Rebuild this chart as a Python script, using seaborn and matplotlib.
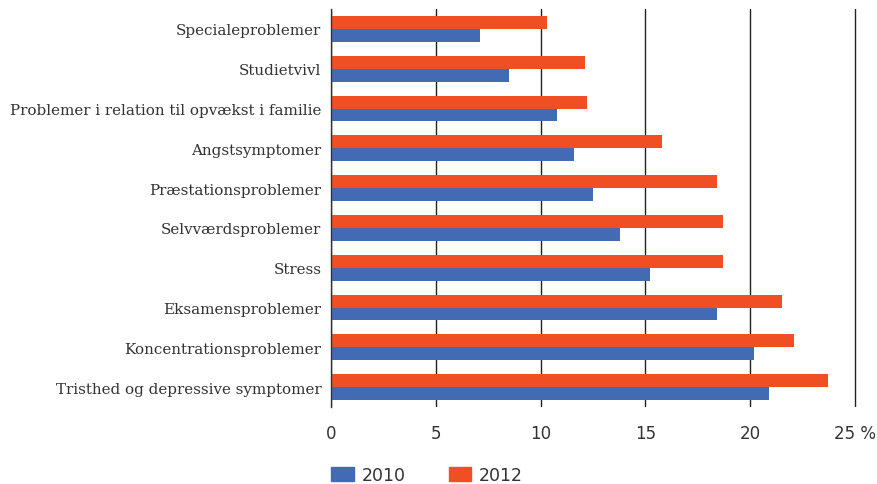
import pandas as pd
import numpy as np
import matplotlib
matplotlib.use("Agg")
import matplotlib.pyplot as plt
import matplotlib.patches as mpatches
import seaborn as sns

# Data (percent)
kategorier = [
    "Specialeproblemer",
    "Studietvivl",
    "Problemer i relation til opvækst i familie",
    "Angstsymptomer",
    "Præstationsproblemer",
    "Selvværdsproblemer",
    "Stress",
    "Eksamensproblemer",
    "Koncentrationsproblemer",
    "Tristhed og depressive symptomer",
]
vaerdier_2010 = [7.1, 8.5, 10.8, 11.6, 12.5, 13.8, 15.2, 18.4, 20.2, 20.9]
vaerdier_2012 = [10.3, 12.1, 12.2, 15.8, 18.4, 18.7, 18.7, 21.5, 22.1, 23.7]
aar = ["2010", "2012"]
farver = {"2010": "#436BB3", "2012": "#F04E23"}
xticks = [0, 5, 10, 15, 20, 25]
xtick_labels = ["0", "5", "10", "15", "20", "25 %"]

df = pd.DataFrame({
    "Kategori": kategorier * 2,
    "Procent": vaerdier_2010 + vaerdier_2012,
    "Aar": ["2010"] * len(kategorier) + ["2012"] * len(kategorier),
})

sns.set_style("white")
plt.rcParams["font.family"] = ["DejaVu Sans"]

fig = plt.figure(figsize=(8.78, 4.85), dpi=100)
# x range padded a touch so the 25 gridline is not clipped at the edge
xmax = 25.1
ax = fig.add_axes([331 / 878, 1 - 408 / 485, (855 - 331) / 878 * xmax / 25, (408 - 10) / 485])

# 2012 on top of each pair, 2010 below
sns.barplot(data=df, y="Kategori", x="Procent", hue="Aar", hue_order=["2012", "2010"],
            order=kategorier, palette=farver, width=0.65, saturation=1,
            edgecolor="none", linewidth=0, ax=ax, legend=False)

ax.set_xlim(0, xmax)
ax.set_ylim(9.5, -0.5)
ax.set_xticks(xticks)
ax.set_xticklabels(xtick_labels, fontsize=12, color="#333333")
ax.tick_params(axis="x", length=0, pad=12)
ax.tick_params(axis="y", length=0, pad=7)
for lbl in ax.get_yticklabels():
    lbl.set_fontfamily("DejaVu Serif")
    lbl.set_fontsize(10.9)
    lbl.set_color("#333333")

ax.set_axisbelow(True)
ax.xaxis.grid(True, color="#222222", linewidth=1.0)
ax.yaxis.grid(False)
for side in ["top", "right", "bottom"]:
    ax.spines[side].set_visible(False)
ax.spines["left"].set_color("#333333")
ax.spines["left"].set_linewidth(1.0)
ax.set_xlabel("")
ax.set_ylabel("")

handles = [mpatches.Patch(color=farver[a], label=a) for a in aar]
fig.legend(handles=handles, loc="center left", bbox_to_anchor=(331 / 878, 9 / 485),
           ncol=2, frameon=False, fontsize=12.5, handlelength=1.3, handleheight=0.9,
           columnspacing=2.5, handletextpad=0.45, borderpad=0, borderaxespad=0,
           labelcolor="#333333")

fig.savefig("out.png", dpi=100)
